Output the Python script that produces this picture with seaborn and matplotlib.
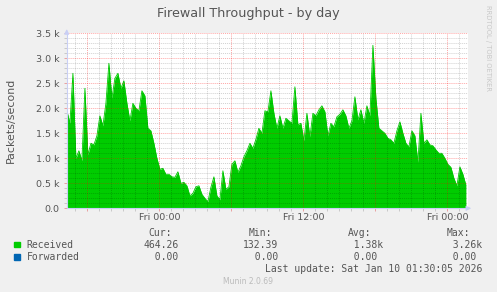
import numpy as np
import pandas as pd
import matplotlib
matplotlib.use("Agg")
import matplotlib.pyplot as plt
import matplotlib.dates as mdates
from matplotlib.patches import Rectangle
from matplotlib.ticker import MultipleLocator, FuncFormatter
import seaborn as sns

# ---------------- data (packets/second, 15-minute samples) ----------------
start_time = "2026-01-08 16:18"
sample_freq = "15min"
received = [
    1950, 1700, 2700, 1000, 1150, 950, 2400, 1070, 1300, 1270,
    1450, 1850, 1650, 2100, 2900, 2200, 2600, 2700, 2400, 2550,
    2100, 1750, 2100, 2000, 1950, 2350, 2250, 1600, 1550, 1300,
    1000, 780, 800, 680, 680, 630, 620, 730, 500, 520,
    450, 250, 300, 430, 450, 280, 200, 132, 420, 630,
    250, 170, 750, 380, 430, 880, 950, 720, 850, 1030,
    1150, 1300, 1200, 1380, 1600, 1500, 1950, 1930, 2350, 1900,
    1600, 1850, 1600, 1800, 1750, 1700, 2430, 1670, 1700, 1350,
    1900, 1430, 1900, 1850, 1970, 2050, 1930, 1450, 1700, 1630,
    1830, 1880, 1970, 1850, 1600, 1750, 2230, 1770, 1970, 1700,
    2050, 1850, 3260, 2200, 1600, 1550, 1500, 1400, 1370, 1300,
    1550, 1730, 1500, 1300, 1230, 1550, 1450, 920, 1900, 1300,
    1370, 1270, 1250, 1170, 1100, 1100, 1000, 880, 820, 600,
    450, 830, 680, 464,
]
forwarded = [0.0] * len(received)

x_tick_labels = {0: "Fri 00:00", 12: "Fri 12:00", 24: "Sat 00:00"}
legend_names = ["Received", "Forwarded"]
legend_cur = ["464.26 ", "  0.00 "]
legend_min = ["132.39 ", "  0.00 "]
legend_avg = ["  1.38k", "  0.00 "]
legend_max = ["  3.26k", "  0.00 "]
last_update = "Last update: Sat Jan 10 01:30:05 2026"

times = pd.date_range(start_time, periods=len(received), freq=sample_freq)
df = pd.DataFrame({"time": times, "received": received, "forwarded": forwarded})

# ---------------- figure ----------------
W, H = 497, 292
BG = "#F0F0F0"
GREEN = "#00CC00"
BLUE = "#0066B3"
TXT = "#555555"
AXIS = "#C9CFF5"

fig = plt.figure(figsize=(W / 100, H / 100), dpi=100, facecolor=BG)

def fx(px):
    return px / W

def fy(py):
    return 1 - py / H

left_px, right_px, top_px, bot_px = 66.7, 468.0, 33.3, 208.3
ax = fig.add_axes([fx(left_px), fy(bot_px), fx(right_px - left_px), (bot_px - top_px) / H])
ax.set_facecolor("white")

fri0 = pd.Timestamp("2026-01-09 00:00")
x0 = fri0 - pd.Timedelta(hours=(159.3 - left_px) / 12)
x1 = fri0 + pd.Timedelta(hours=(right_px - 159.3) / 12)

ax.fill_between(df["time"], 0, df["received"], color=GREEN, lw=0, zorder=1)
sns.lineplot(data=df, x="time", y="received", ax=ax, color=GREEN, lw=0.6, zorder=2)
sns.lineplot(data=df, x="time", y="forwarded", ax=ax, color=BLUE, lw=0.6, zorder=2)

ax.set_xlim(x0, x1)
ax.set_ylim(0, 3500)

# ticks / grid
ax.xaxis.set_major_locator(mdates.HourLocator(byhour=[0, 6, 12, 18]))
ax.xaxis.set_minor_locator(mdates.HourLocator())

def xfmt(v, pos):
    d = mdates.num2date(v)
    return x_tick_labels.get(d.hour, "") if d.hour in (0, 12) else ""

ax.xaxis.set_major_formatter(FuncFormatter(xfmt))
ax.yaxis.set_major_locator(MultipleLocator(500))
ax.yaxis.set_minor_locator(MultipleLocator(100))
ax.yaxis.set_major_formatter(FuncFormatter(lambda v, p: "0.0" if v == 0 else f"{v/1000:.1f} k"))

ax.set_axisbelow(False)
ax.grid(which="minor", color="#000000", alpha=0.18, lw=0.7, ls=(0, (1, 1)), zorder=3)
ax.grid(which="major", color="#FF0000", alpha=0.35, lw=0.7, ls=(0, (1, 1)), zorder=3)

ax.tick_params(axis="both", which="major", length=2, width=0.7, color="#E8A0A0",
               labelsize=6.8, labelcolor=TXT)
ax.tick_params(axis="both", which="minor", length=2, width=0.7, color="#C8C8C8")
ax.tick_params(axis="x", which="major", pad=1.5)
ax.tick_params(axis="y", which="major", pad=3.2)

for s in ("top", "right"):
    ax.spines[s].set_visible(False)
for s in ("left", "bottom"):
    ax.spines[s].set_color(AXIS)
    ax.spines[s].set_linewidth(0.8)
    ax.spines[s].set_zorder(4)
ax.set_xlabel("")
ax.set_ylabel("")

# axis arrows
ax.annotate("", xy=(1 + 6 / (right_px - left_px), 0), xytext=(0.99, 0), xycoords="axes fraction",
            arrowprops=dict(arrowstyle="-|>", color=AXIS, lw=0.8, mutation_scale=7), annotation_clip=False)
ax.annotate("", xy=(0, 1 + 7 / (bot_px - top_px)), xytext=(0, 0.99), xycoords="axes fraction",
            arrowprops=dict(arrowstyle="-|>", color=AXIS, lw=0.8, mutation_scale=7), annotation_clip=False)

# titles
fig.text(fx(248.5), fy(14), "Firewall Throughput - by day", ha="center", va="center",
         fontsize=9.2, color=TXT)
fig.text(fx(10.7), fy(120), "Packets/second", ha="center", va="center", rotation=90,
         fontsize=7.9, color=TXT)
fig.text(fx(488), fy(5), "RRDTOOL / TOBI OETIKER", ha="center", va="top", rotation=270,
         fontsize=4.9, color="#C8C8C8")

# legend
mono = dict(family="DejaVu Sans Mono", fontsize=7, color=TXT, va="center")
for txt, xr in zip(["Cur:", "Min:", "Avg:", "Max:"], [172, 272, 371, 470]):
    fig.text(fx(xr), fy(233.3), txt, ha="right", **mono)

rows_y = [244.5, 256.7]
colors = [GREEN, BLUE]
char_w = 5.83
field_end = [178.3 + char_w, 278.3 + char_w, 383.3, 482.3]
for i, (name, c) in enumerate(zip(legend_names, colors)):
    y = rows_y[i]
    fig.patches.append(Rectangle((fx(14), fy(y + 2.8)), 5.5 / W, 5.5 / H,
                                 transform=fig.transFigure, color=c, figure=fig))
    fig.text(fx(26.7), fy(y), name, ha="left", **mono)
    for vals, xe in zip([legend_cur, legend_min, legend_avg, legend_max], field_end):
        s = vals[i]
        fig.text(fx(xe - len(s) * char_w), fy(y), s.rstrip(), ha="left", **mono)

fig.text(fx(482.3), fy(269), last_update, ha="right", **mono)
fig.text(fx(248), fy(281), "Munin 2.0.69", ha="center", va="center", fontsize=5.5, color="#BBBBBB")

fig.savefig("out.png", dpi=100, facecolor=BG)
